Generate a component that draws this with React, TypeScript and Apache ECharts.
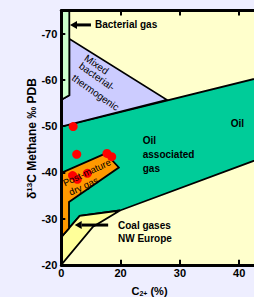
import React, { useEffect, useRef } from 'react';
import * as echarts from 'echarts';

// x values are in the drawn axis units (left edge is labelled "0", then 20, 30, 40)
const xTickLabels: Record<number, string> = { 10: '0', 20: '20', 30: '30', 40: '40' };
const yTickValues = [-70, -60, -50, -40, -30, -20];

// region outlines: [C2+ axis units, δ13C ‰]
const bacterialStrip = [[10, -75], [11.35, -75], [11.35, -56.7], [10, -55.7]];
const mixedZone = [[10, -55.7], [11.35, -56.7], [11.35, -68.9], [27.8, -55.7], [10, -49.9]];
const oilZone = [[10, -49.9], [45, -61.0], [45, -43.7], [19.9, -31.75], [13.1, -30.6], [10, -26.0]];
const coalZone = [[10, -26.0], [13.1, -30.6], [19.9, -31.75], [15.35, -28.25], [10, -20]];
const postMatureZone = [[10, -39.9], [17.5, -44.1], [19.7, -41.05], [11.3, -33.6], [11.3, -27.9], [10, -26.0]];

// sample points
const samples = [[12.0, -49.9], [12.6, -43.9], [17.7, -44.1], [18.5, -43.4], [11.9, -39.3], [12.7, -38.5], [14.4, -39.8]];

// arrows
const arrowTails = [[15.0, -71.9], [17.9, -28.6]];
const arrowTips = [[11.47, -71.9], [12.26, -28.6]];

// annotations
const noteTexts = ['Bacterial gas', 'Mixed', 'bacterial-', 'thermogenic', 'Oil\nassociated\ngas', 'Oil', 'Post-mature', 'dry gas', 'Coal gases\nNW Europe'];
const notePos = [[15.68, -71.9], [15.94, -63.34], [16.02, -60.74], [15.77, -57.28], [23.73, -43.76], [39.71, -50.68], [14.3, -40.0], [13.74, -37.05], [19.56, -27.16]];

const FONT = "'Liberation Sans', Arial, sans-serif";
const noteStyle = [
  { rot: 0, align: 'left', weight: 'bold', size: 10, lh: 12 },
  { rot: -35, align: 'center', weight: 'normal', size: 10, lh: 12 },
  { rot: -35, align: 'center', weight: 'normal', size: 10, lh: 12 },
  { rot: -35, align: 'center', weight: 'normal', size: 10, lh: 12 },
  { rot: 0, align: 'left', weight: 'bold', size: 10, lh: 14 },
  { rot: 0, align: 'center', weight: 'bold', size: 10, lh: 12 },
  { rot: 25, align: 'center', weight: 'normal', size: 9.5, lh: 12 },
  { rot: 25, align: 'center', weight: 'normal', size: 9.5, lh: 12 },
  { rot: 0, align: 'left', weight: 'bold', size: 10, lh: 13 },
];

const toPlot = (p: number[]) => [p[0], -p[1]];

function polySeries(pts: number[][], fill: string, z: number) {
  return {
    type: 'custom',
    coordinateSystem: 'cartesian2d',
    silent: true,
    clip: true,
    z,
    data: [[10, 20]],
    renderItem: (_params: any, api: any) => ({
      type: 'polygon',
      shape: { points: pts.map((p) => api.coord(toPlot(p))) },
      style: { fill, stroke: '#000', lineWidth: 1.8, lineJoin: 'miter' },
    }),
  };
}

export default function App() {
  const ref = useRef<HTMLDivElement>(null);
  useEffect(() => {
    if (!ref.current) return;
    const chart = echarts.init(ref.current, null, { renderer: 'svg' });
    const axisLine = { show: true, onZero: false, lineStyle: { color: '#000', width: 3 } };
    const axisTick = { show: true, inside: true, length: 5, lineStyle: { color: '#000', width: 2 } };
    chart.setOption({
      animation: false,
      backgroundColor: '#EEEEFF',
      grid: {
        left: 61.3,
        top: 10.6,
        width: 207.55,
        height: 254.2,
        show: true,
        backgroundColor: '#FFFFCC',
        borderWidth: 0,
        containLabel: false,
        outerBoundsMode: 'none',
      },
      xAxis: [
        {
          type: 'value', min: 10, max: 45, interval: 10, position: 'bottom', z: 10,
          axisLine, axisTick,
          splitLine: { show: false },
          axisLabel: {
            formatter: (v: number) => xTickLabels[v] ?? '',
            color: '#000', fontWeight: 'bold', fontSize: 11, fontFamily: FONT, margin: 3,
          },
        },
        {
          type: 'value', min: 10, max: 45, interval: 10, position: 'top', z: 10,
          axisLine, axisTick,
          splitLine: { show: false },
          axisLabel: { show: false },
        },
      ],
      yAxis: {
        type: 'value', min: 20, max: 75, interval: 10, z: 10,
        axisLine, axisTick: { ...axisTick, length: 4 },
        splitLine: { show: false },
        axisLabel: {
          formatter: (v: number) => (yTickValues.includes(-v) ? String(-v) : ''),
          color: '#000', fontWeight: 'bold', fontSize: 11, fontFamily: FONT, margin: 4,
        },
      },
      graphic: [
        {
          type: 'text', x: 31.7, y: 138.5, rotation: Math.PI / 2,
          style: {
            text: '{a|δ}{s|13}{a|C Methane ‰ PDB}',
            align: 'center', verticalAlign: 'middle', fill: '#000',
            rich: {
              a: { fontSize: 12, fontWeight: 'bold', fontFamily: FONT, fill: '#000' },
              s: { fontSize: 8, fontWeight: 'bold', fontFamily: FONT, fill: '#000', verticalAlign: 'top' },
            },
          },
        },
        {
          type: 'text', x: 149.5, y: 291,
          style: {
            text: '{a|C}{s|2+}{a| (%)}',
            align: 'center', verticalAlign: 'middle', fill: '#000',
            rich: {
              a: { fontSize: 11, fontWeight: 'bold', fontFamily: FONT, fill: '#000' },
              s: { fontSize: 7, fontWeight: 'bold', fontFamily: FONT, fill: '#000', verticalAlign: 'bottom' },
            },
          },
        },
      ],
      series: [
        polySeries(oilZone, '#00CC99', 2),
        polySeries(mixedZone, '#CCCCFF', 3),
        polySeries(bacterialStrip, '#CCFFCC', 3),
        polySeries(coalZone, '#FFFF99', 3),
        polySeries(postMatureZone, '#FF9900', 4),
        {
          type: 'custom',
          coordinateSystem: 'cartesian2d',
          silent: true,
          z: 6,
          data: arrowTails.map((t, i) => [...toPlot(t), ...toPlot(arrowTips[i])]),
          renderItem: (_p: any, api: any) => {
            const a = api.coord([api.value(0), api.value(1)]);
            const b = api.coord([api.value(2), api.value(3)]);
            const dx = b[0] - a[0], dy = b[1] - a[1];
            const len = Math.hypot(dx, dy) || 1;
            const ux = dx / len, uy = dy / len;
            const hl = 7, hw = 4;
            const bx = b[0] - ux * hl, by = b[1] - uy * hl;
            return {
              type: 'group',
              children: [
                { type: 'line', shape: { x1: a[0], y1: a[1], x2: bx, y2: by }, style: { stroke: '#000', lineWidth: 3 } },
                {
                  type: 'polygon',
                  shape: { points: [[b[0], b[1]], [bx - uy * hw, by + ux * hw], [bx + uy * hw, by - ux * hw]] },
                  style: { fill: '#000' },
                },
              ],
            };
          },
        },
        {
          type: 'scatter',
          silent: true,
          z: 7,
          symbol: 'circle',
          symbolSize: 9,
          itemStyle: { color: '#FF0000', opacity: 1 },
          data: samples.map(toPlot),
        },
        {
          type: 'custom',
          coordinateSystem: 'cartesian2d',
          silent: true,
          z: 8,
          data: notePos.map((p, i) => [...toPlot(p), i]),
          renderItem: (params: any, api: any) => {
            const i = params.dataIndex;
            const pt = api.coord([api.value(0), api.value(1)]);
            const s = noteStyle[i];
            return {
              type: 'text',
              x: pt[0],
              y: pt[1],
              rotation: (s.rot * Math.PI) / 180,
              style: {
                text: noteTexts[i],
                fill: '#000',
                fontSize: s.size,
                fontWeight: s.weight,
                fontFamily: FONT,
                align: s.align,
                verticalAlign: 'middle',
                lineHeight: s.lh,
              },
            };
          },
        },
      ],
    });
    return () => chart.dispose();
  }, []);
  return (
    <div
      ref={ref}
      style={{ position: 'absolute', left: 0, top: 0, width: 254, height: 297, background: '#EEEEFF' }}
    />
  );
}
